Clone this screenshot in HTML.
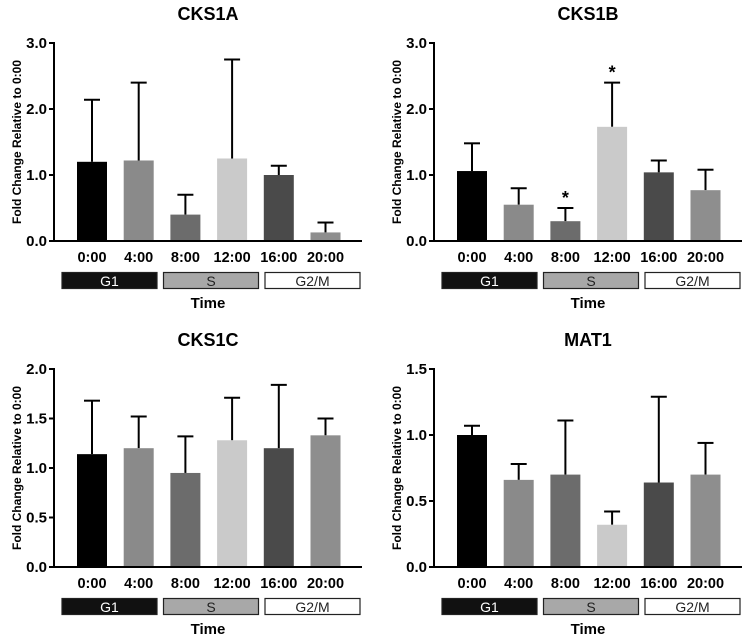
<!DOCTYPE html>
<html><head><meta charset="utf-8"><style>
body{margin:0;background:#fff;}
svg{display:block;font-family:"Liberation Sans",sans-serif;}
</style></head><body>
<svg id="c" width="742" height="634"></svg>
<script>
const categories=["0:00","4:00","8:00","12:00","16:00","20:00"];
const titles=["CKS1A","CKS1B","CKS1C","MAT1"];
const cks1aMean=[1.2,1.22,0.4,1.25,1.0,0.13];
const cks1aErr=[2.14,2.4,0.7,2.75,1.14,0.28];
const cks1bMean=[1.06,0.55,0.3,1.73,1.04,0.77];
const cks1bErr=[1.48,0.8,0.5,2.4,1.22,1.08];
const cks1cMean=[1.14,1.2,0.95,1.28,1.2,1.33];
const cks1cErr=[1.68,1.52,1.32,1.71,1.84,1.5];
const mat1Mean=[1.0,0.66,0.7,0.32,0.64,0.7];
const mat1Err=[1.07,0.78,1.11,0.42,1.29,0.94];
const ticksA=["0.0","1.0","2.0","3.0"];
const ticksC=["0.0","0.5","1.0","1.5","2.0"];
const ticksM=["0.0","0.5","1.0","1.5"];
const maxes=[3,3,2,1.5];
const stars=[[],[2,3],[],[]];
const phases=["G1","S","G2/M"];
const colors=["#000","#8a8a8a","#6c6c6c","#cacaca","#4a4a4a","#8e8e8e"];
const NS="http://www.w3.org/2000/svg";
const svg=document.getElementById('c');
function mk(t,a,p){const e=document.createElementNS(NS,t);for(const k in a)e.setAttribute(k,a[k]);(p||svg).appendChild(e);return e;}
const panels=[
 {m:cks1aMean,e:cks1aErr,t:ticksA,dx:0,dy:0},
 {m:cks1bMean,e:cks1bErr,t:ticksA,dx:380,dy:0},
 {m:cks1cMean,e:cks1cErr,t:ticksC,dx:0,dy:326},
 {m:mat1Mean,e:mat1Err,t:ticksM,dx:380,dy:326}];
panels.forEach((p,pi)=>{
 const g=mk('g',{transform:`translate(${p.dx},${p.dy})`});
 
 
 const y0=241,y1=43,max=maxes[pi];
 const y=v=>y0-(v/max)*(y0-y1);
 const x=i=>92+i*46.7;
 const tt=mk('text',{x:208,y:20,'text-anchor':'middle','font-size':18,'font-weight':'bold'},g);tt.textContent=titles[pi];
 
 const yl=mk('text',{transform:'translate(21,142) rotate(-90)','text-anchor':'middle','font-size':12,'font-weight':'bold'},g);
 yl.textContent='Fold Change Relative to 0:00';
 
 p.t.forEach(l=>{const v=parseFloat(l);const yy=y(v);
  mk('line',{x1:49,x2:54,y1:yy,y2:yy,stroke:'#000','stroke-width':2},g);
  const t=mk('text',{x:47,y:yy+5,'text-anchor':'end','font-size':15,'font-weight':'bold'},g);t.textContent=l;
  });
 p.m.forEach((v,i)=>{const cx=x(i);
  const top=y(p.e[i]);
  mk('line',{x1:cx,x2:cx,y1:y(v),y2:top,stroke:'#000','stroke-width':2},g);
  mk('line',{x1:cx-8,x2:cx+8,y1:top,y2:top,stroke:'#000','stroke-width':2},g);
  const b=mk('rect',{x:cx-15,y:y(v),width:30,height:y0-y(v),fill:colors[i]},g);
  
  const t=mk('text',{x:cx,y:262,'text-anchor':'middle','font-size':14.5,'font-weight':'bold'},g);t.textContent=categories[i];
  
  if(stars[pi].includes(i)){const s=mk('text',{x:cx,y:top-4,'text-anchor':'middle','font-size':18,'font-weight':'bold'},g);s.textContent='*';
   }
 });
 mk('line',{x1:54,x2:54,y1:y1-1,y2:y0+1,stroke:'#000','stroke-width':2},g);
 mk('line',{x1:53,x2:362,y1:y0,y2:y0,stroke:'#000','stroke-width':2},g);
 const pf=["#111","#a8a8a8","#fff"],tf=["#fff","#222","#222"];
 phases.forEach((ph,i)=>{const bx=62+i*101.5;
  const r=mk('rect',{x:bx,y:272.5,width:95,height:16,fill:pf[i],stroke:'#222','stroke-width':1.2},g);
  
  const t=mk('text',{x:bx+47.5,y:286,'text-anchor':'middle','font-size':14,fill:tf[i]},g);t.textContent=ph;});
 const xt=mk('text',{x:208,y:308,'text-anchor':'middle','font-size':15,'font-weight':'bold'},g);xt.textContent='Time';
 
});
</script>
</body></html>
